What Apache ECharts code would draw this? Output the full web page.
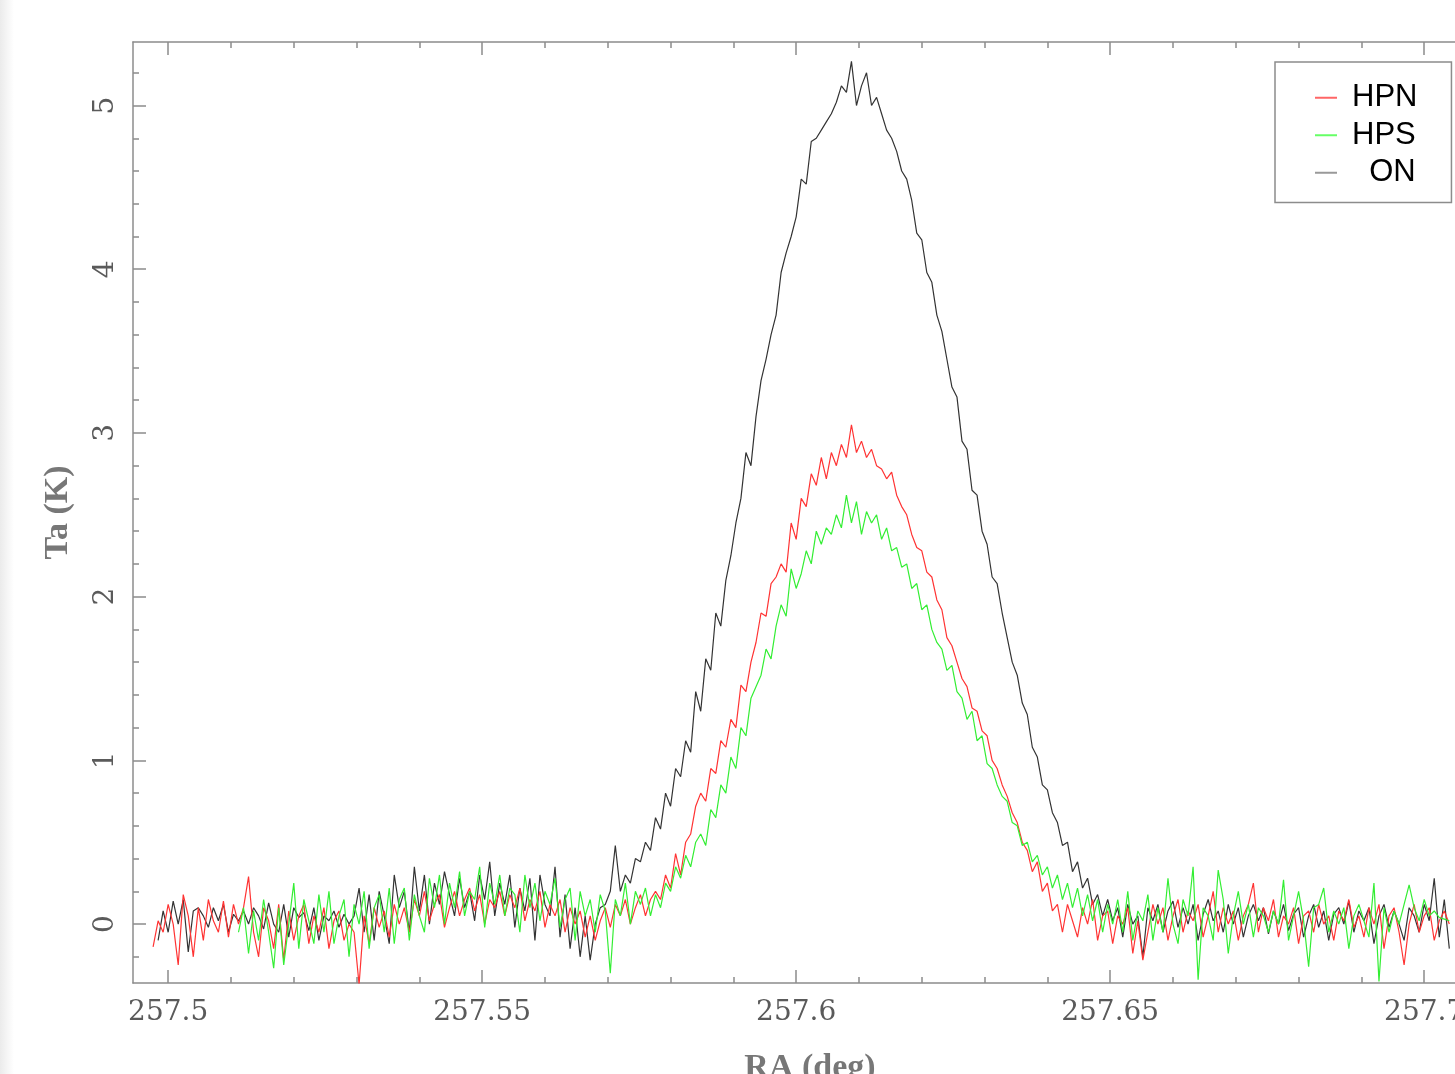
<!DOCTYPE html>
<html>
<head>
<meta charset="utf-8">
<title>Ta vs RA</title>
<script src="https://cdn.jsdelivr.net/npm/echarts@6/dist/echarts.min.js"></script>
<style>
html, body { margin: 0; padding: 0; background: #fff; }
#main { width: 1455px; height: 1074px; }
</style>
</head>
<body>
<div id="main"></div>
<script>
// RA sampling of the scans (deg)
var raStart = 257.4976;
var raStep = 0.0008;

// Ta (K) for each scan, one value per RA sample
var onTa = [
  null, -0.1, 0.08, -0.05, 0.14, 0.0, 0.15, -0.17, 0.08, 0.1,
  0.05, -0.02, 0.1, 0.02, 0.12, -0.05, 0.06, 0.02, 0.08, 0.0,
  0.1, 0.05, -0.03, 0.13, 0.0, -0.05, 0.12, -0.08, 0.1, 0.04,
  0.07, -0.04, 0.1, -0.1, 0.05, 0.02, 0.08, -0.02, 0.06, 0.0,
  0.05, 0.22, -0.05, 0.18, -0.1, 0.2, 0.05, -0.12, 0.3, 0.1,
  0.2, -0.05, 0.35, 0.08, 0.3, 0.0, 0.25, 0.12, 0.32, 0.18,
  0.05, 0.28, 0.1, 0.2, 0.02, 0.3, 0.15, 0.38, 0.05, 0.25,
  0.12, 0.3, -0.02, 0.22, 0.08, 0.28, -0.1, 0.3, 0.12, 0.05,
  0.35, -0.08, 0.18, -0.15, 0.1, -0.2, 0.05, -0.22, 0.0, 0.1,
  0.12, 0.2, 0.48, 0.2, 0.3, 0.25, 0.4, 0.38, 0.5, 0.45,
  0.65, 0.58, 0.8, 0.72, 0.95, 0.9, 1.12, 1.05, 1.42, 1.3,
  1.62, 1.55, 1.9, 1.82, 2.1, 2.25, 2.45, 2.6, 2.88, 2.8,
  3.1, 3.32, 3.45, 3.6, 3.72, 3.98, 4.1, 4.2, 4.32, 4.55,
  4.52, 4.78, 4.8, 4.85, 4.9, 4.95, 5.02, 5.12, 5.08, 5.27,
  5.0, 5.12, 5.2, 5.0, 5.05, 4.95, 4.85, 4.8, 4.72, 4.6,
  4.55, 4.42, 4.22, 4.18, 3.98, 3.92, 3.72, 3.62, 3.45, 3.28,
  3.22, 2.95, 2.9, 2.65, 2.62, 2.4, 2.32, 2.12, 2.08, 1.9,
  1.75, 1.6, 1.52, 1.35, 1.28, 1.08, 1.02, 0.85, 0.82, 0.68,
  0.62, 0.48, 0.5, 0.32, 0.38, 0.22, 0.28, 0.12, 0.18, 0.05,
  0.15, 0.02, 0.1, -0.08, 0.12, 0.0, 0.05, -0.2, 0.1, 0.02,
  0.12, -0.05, 0.08, 0.14, -0.02, 0.1, 0.0, 0.12, -0.1, 0.06,
  0.15, 0.02, 0.08, -0.05, 0.12, 0.0, 0.1, -0.08, 0.05, 0.12,
  0.02, 0.1, -0.06, 0.08, 0.0, 0.12, -0.04, 0.06, 0.1, -0.08,
  0.05, 0.12, -0.02, 0.08, -0.1, 0.06, 0.1, 0.0, 0.14, -0.05,
  0.08, 0.02, 0.1, -0.12, 0.05, 0.12, -0.02, 0.08, 0.0, -0.1,
  0.1, 0.05, -0.05, 0.12, 0.02, 0.28, -0.08, 0.15, -0.15
];

var hpnTa = [
  -0.14, 0.02, -0.05, 0.12, 0.0, -0.25, 0.18, 0.05, -0.2, 0.1,
  -0.1, 0.15, 0.02, -0.05, 0.14, -0.08, 0.12, 0.0, 0.1, 0.29,
  -0.05, -0.2, 0.1, 0.02, -0.15, 0.12, -0.22, 0.08, -0.1, 0.05,
  0.12, -0.12, 0.05, -0.05, 0.1, -0.15, 0.02, 0.08, -0.1, 0.0,
  -0.05, -0.37, 0.05, -0.12, 0.1, -0.02, 0.08, -0.08, 0.12, 0.0,
  0.1, -0.05, 0.15, 0.05, 0.2, 0.02, 0.12, 0.18, -0.02, 0.1,
  0.2, 0.05, 0.15, 0.22, 0.08, 0.18, 0.0, 0.15, 0.1, 0.2,
  0.05, 0.18, 0.1, 0.22, 0.02, 0.15, 0.08, 0.2, -0.02, 0.12,
  0.05, 0.15, -0.05, 0.1, 0.0, 0.08, -0.08, 0.05, -0.1, 0.02,
  0.1, -0.02, 0.12, 0.05, 0.15, 0.0, 0.1, 0.18, 0.05, 0.15,
  0.2, 0.15, 0.3, 0.22, 0.43, 0.3, 0.5, 0.55, 0.72, 0.8,
  0.75, 0.95, 0.92, 1.12, 1.08, 1.25, 1.2, 1.46, 1.42, 1.6,
  1.72, 1.9, 1.88, 2.08, 2.12, 2.2, 2.15, 2.45, 2.35, 2.6,
  2.55, 2.75, 2.68, 2.85, 2.72, 2.88, 2.8, 2.93, 2.85, 3.05,
  2.88, 2.95, 2.85, 2.9, 2.8, 2.78, 2.72, 2.76, 2.62, 2.55,
  2.5, 2.38, 2.3, 2.28, 2.15, 2.12, 1.98, 1.92, 1.75, 1.7,
  1.6, 1.5, 1.45, 1.32, 1.3, 1.18, 1.15, 1.0, 0.95, 0.85,
  0.78, 0.68, 0.62, 0.5, 0.45, 0.32, 0.38, 0.2, 0.25, 0.08,
  0.12, -0.05, 0.12, 0.02, -0.08, 0.1, 0.0, 0.15, -0.1, 0.05,
  0.08, -0.12, 0.05, 0.0, 0.1, -0.18, 0.02, -0.22, -0.05, 0.12,
  0.0, 0.1, -0.1, 0.05, 0.15, -0.05, 0.08, 0.02, 0.12, -0.08,
  0.05, 0.2, -0.05, 0.1, 0.0, 0.08, -0.1, 0.05, 0.12, 0.25,
  -0.05, 0.1, 0.02, 0.15, -0.08, 0.05, 0.0, 0.1, -0.12, 0.05,
  0.08, -0.05, 0.12, 0.0, 0.05, -0.1, 0.08, 0.02, 0.15, -0.02,
  0.05, -0.08, 0.1, 0.0, 0.12, -0.15, 0.05, 0.1, -0.05, -0.25,
  0.0, 0.12, -0.05, 0.05, 0.1, -0.1, 0.02, 0.08, 0.0
];

var hpsTa = [
  null, null, null, null, null, null, null, null, null, null,
  null, null, null, null, null, null, null, -0.05, 0.1, -0.18,
  0.08, -0.1, 0.15, -0.05, -0.27, 0.1, -0.25, 0.0, 0.25, -0.15,
  0.15, 0.02, -0.12, 0.18, -0.05, 0.2, -0.12, 0.05, 0.15, -0.2,
  0.12, 0.0, 0.2, -0.15, 0.1, 0.18, -0.05, 0.22, -0.12, 0.15,
  0.22, -0.1, 0.18, 0.05, -0.05, 0.28, 0.1, 0.3, 0.0, 0.25,
  0.1, 0.32, 0.05, 0.2, 0.15, 0.35, -0.02, 0.25, 0.12, 0.3,
  0.05, 0.22, 0.18, -0.05, 0.3, 0.1, 0.25, 0.02, 0.2, 0.12,
  0.28, -0.02, 0.15, 0.22, -0.1, 0.2, 0.05, 0.15, -0.05, 0.18,
  0.08, -0.3, 0.15, 0.05, 0.25, 0.0, 0.2, 0.12, 0.22, 0.05,
  0.18, 0.1, 0.25, 0.2, 0.35, 0.28, 0.42, 0.35, 0.5, 0.55,
  0.48, 0.7, 0.65, 0.85, 0.8, 1.02, 0.95, 1.2, 1.15, 1.38,
  1.45, 1.52, 1.68, 1.62, 1.82, 1.95, 1.88, 2.17, 2.05, 2.14,
  2.28, 2.2, 2.4, 2.32, 2.42, 2.38, 2.5, 2.42, 2.62, 2.45,
  2.58, 2.38, 2.52, 2.45, 2.5, 2.35, 2.42, 2.28, 2.3, 2.18,
  2.2, 2.05, 2.08, 1.92, 1.95, 1.8, 1.72, 1.68, 1.55, 1.58,
  1.42, 1.38, 1.25, 1.3, 1.12, 1.15, 0.98, 0.95, 0.85, 0.78,
  0.75, 0.62, 0.6, 0.48, 0.5, 0.38, 0.42, 0.3, 0.35, 0.22,
  0.3, 0.15, 0.25, 0.1, 0.22, 0.05, 0.18, 0.02, 0.15, -0.05,
  0.12, 0.0, 0.15, -0.05, 0.2, -0.1, 0.08, 0.02, 0.18, -0.1,
  0.1, -0.05, 0.28, 0.0, -0.12, 0.15, 0.05, 0.35, -0.34, 0.1,
  0.05, -0.1, 0.33, 0.15, -0.18, 0.05, 0.2, 0.0, 0.12, -0.08,
  0.1, 0.05, -0.05, 0.08, 0.0, 0.27, -0.1, 0.05, 0.2, 0.02,
  -0.26, 0.1, 0.12, 0.22, -0.05, 0.08, 0.0, 0.1, -0.15, 0.05,
  0.12, 0.02, -0.08, 0.25, -0.35, 0.1, -0.05, 0.08, 0.0, 0.12,
  0.24, 0.1, 0.02, 0.15, 0.05, 0.08, 0.04, 0.03, 0.02
];

// ticks
var xMajor = [257.5, 257.55, 257.6, 257.65, 257.7];
var xMinor = [257.51, 257.52, 257.53, 257.54, 257.56, 257.57, 257.58, 257.59,
  257.61, 257.62, 257.63, 257.64, 257.66, 257.67, 257.68, 257.69];
var yMajor = [0, 1, 2, 3, 4, 5];
var yMinor = [-0.2, 0.2, 0.4, 0.6, 0.8, 1.2, 1.4, 1.6, 1.8, 2.2, 2.4, 2.6, 2.8,
  3.2, 3.4, 3.6, 3.8, 4.2, 4.4, 4.6, 4.8, 5.2];

var seriesNames = ['HPN', 'HPS', 'ON'];
var lineColors = ['#ff3333', '#33ee33', '#333333'];
var legendColors = ['#ff6666', '#66ff66', '#999999'];

var xMin = 257.4944, xMax = 257.71;
var yMin = -0.36, yMax = 5.388;
var axisGray = '#8c8c8c';

function toPairs(vals) {
  var out = [];
  for (var i = 0; i < vals.length; i++) {
    if (vals[i] !== null) out.push([+(raStart + i * raStep).toFixed(5), vals[i]]);
  }
  return out;
}

function tickAxis(pos, ticks, len, withLine) {
  return {
    type: 'value', position: pos, min: pos === 'left' ? yMin : xMin, max: pos === 'left' ? yMax : xMax,
    axisLine: { show: withLine, onZero: false, lineStyle: { color: axisGray, width: 1.5 } },
    axisTick: { show: true, inside: true, length: len, customValues: ticks, lineStyle: { color: axisGray, width: 1.5 } },
    axisLabel: { show: false },
    splitLine: { show: false }
  };
}

var chart = echarts.init(document.getElementById('main'));

var xBottom = tickAxis('bottom', xMajor, 13, true);
xBottom.axisLabel = {
  show: true, customValues: xMajor, margin: 16,
  fontFamily: 'DejaVu Serif', fontSize: 28, color: '#5a5a5a',
  formatter: function (v) { return String(v); }
};
xBottom.name = 'RA (deg)';
xBottom.nameLocation = 'middle';
xBottom.nameGap = 68;
xBottom.nameTextStyle = { fontFamily: 'Liberation Serif', fontWeight: 'bold', fontSize: 34, color: '#777' };

var yLeft = tickAxis('left', yMajor, 13, true);
yLeft.axisLabel = {
  show: true, customValues: yMajor, margin: 13, rotate: 90,
  fontFamily: 'DejaVu Serif', fontSize: 28, color: '#5a5a5a'
};
yLeft.name = 'Ta (K)';
yLeft.nameLocation = 'middle';
yLeft.nameGap = 58;
yLeft.nameTextStyle = { fontFamily: 'Liberation Serif', fontWeight: 'bold', fontSize: 34, color: '#777' };

var option = {
  backgroundColor: '#fff',
  animation: false,
  graphic: [{
    type: 'rect', left: 0, top: 0, z: -10,
    shape: { width: 14, height: 1074 },
    style: { fill: new echarts.graphic.LinearGradient(0, 0, 1, 0, [
      { offset: 0, color: '#ebebeb' }, { offset: 1, color: '#ffffff' }]) }
  }],
  grid: { left: 133, top: 42, width: 1354, height: 941, containLabel: false, outerBoundsMode: 'none' },
  xAxis: [xBottom, tickAxis('bottom', xMinor, 6, false), tickAxis('top', xMajor, 13, true), tickAxis('top', xMinor, 6, false)],
  yAxis: [yLeft, tickAxis('left', yMinor, 6, false)],
  legend: {
    orient: 'vertical', left: 1275, top: 62,
    padding: [17, 34, 11, 40],
    itemGap: 0, itemWidth: 22, itemHeight: 2, icon: 'rect',
    backgroundColor: '#fff', borderColor: axisGray, borderWidth: 1.5,
    selectedMode: false,
    textStyle: { fontFamily: 'Liberation Sans', fontSize: 31, color: '#000', lineHeight: 37.5, padding: [0, 0, 0, 10] },
    formatter: function (n) { return n === 'ON' ? '  ON' : n; },
    data: seriesNames.map(function (n, i) { return { name: n, itemStyle: { color: legendColors[i] } }; })
  },
  series: [
    { name: 'ON', type: 'line', data: toPairs(onTa), showSymbol: false, symbol: 'none',
      lineStyle: { width: 1.2, color: lineColors[2] }, itemStyle: { color: lineColors[2] } },
    { name: 'HPN', type: 'line', data: toPairs(hpnTa), showSymbol: false, symbol: 'none',
      lineStyle: { width: 1.2, color: lineColors[0] }, itemStyle: { color: lineColors[0] } },
    { name: 'HPS', type: 'line', data: toPairs(hpsTa), showSymbol: false, symbol: 'none',
      lineStyle: { width: 1.2, color: lineColors[1] }, itemStyle: { color: lineColors[1] } }
  ]
};

chart.setOption(option);
</script>
</body>
</html>
